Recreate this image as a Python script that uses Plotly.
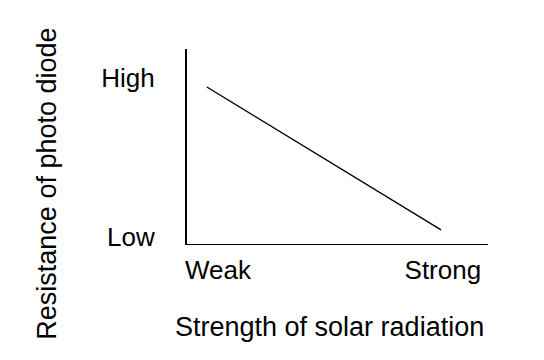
import plotly.graph_objects as go

# Data (arbitrary units read from the schematic)
strength = [0.66, 8.44]
resistance = [8.05, 0.72]

x_tick_vals = [1.03, 8.5]
x_tick_text = ["Weak", "Strong"]
y_tick_vals = [8.5, 0.35]
y_tick_text = ["High", "Low"]

x_title = "Strength of solar radiation"
y_title = "Resistance of photo diode"

FONT = "Liberation Sans, Arial, sans-serif"

fig = go.Figure()
fig.add_trace(go.Scatter(x=strength, y=resistance, mode="lines",
                         line=dict(color="black", width=1.4),
                         showlegend=False, hoverinfo="skip"))

fig.update_layout(
    width=544, height=360,
    margin=dict(l=179, r=64, t=41, b=124),
    paper_bgcolor="white", plot_bgcolor="white",
    font=dict(family=FONT, color="black"),
    xaxis=dict(range=[0, 10], showgrid=False, zeroline=False,
               showline=True, linecolor="black", linewidth=1.2,
               ticks="", tickvals=x_tick_vals, ticktext=x_tick_text,
               tickfont=dict(size=26, family=FONT, color="black"),
               ticklabelstandoff=3, fixedrange=True),
    yaxis=dict(range=[0, 10], showgrid=False, zeroline=False,
               showline=True, linecolor="black", linewidth=2,
               ticks="", tickvals=y_tick_vals, ticktext=y_tick_text,
               tickfont=dict(size=26, family=FONT, color="black"),
               ticklabelstandoff=25, fixedrange=True),
    annotations=[
        dict(text=x_title, xref="paper", yref="paper", x=0.475, y=-0.426,
             xanchor="center", yanchor="middle", showarrow=False,
             font=dict(size=27, family=FONT, color="black")),
        dict(text=y_title, xref="paper", yref="paper", x=-0.468, y=0.31,
             xanchor="center", yanchor="middle", showarrow=False,
             textangle=-90,
             font=dict(size=27, family=FONT, color="black")),
    ],
)

fig.write_html("out.html")
